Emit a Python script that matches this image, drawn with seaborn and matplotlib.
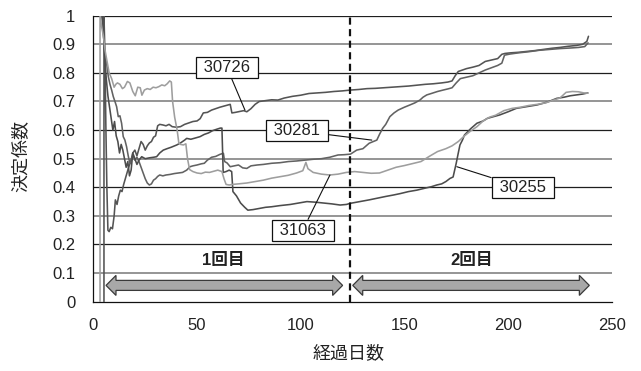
import matplotlib
matplotlib.use("Agg")
import matplotlib.pyplot as plt
import pandas as pd
import seaborn as sns
from matplotlib.patches import Polygon

# ---- data: coefficient of determination vs. elapsed days ----
d_30726 = [5.1, 5.1, 5.6, 6.0, 6.5, 7.0, 7.6, 8.4, 9.2, 10.0,
           10.6, 11.4, 12.2, 13.0, 13.8, 14.6, 15.4, 16.2, 17.0, 18.0,
           19.0, 20.0, 21.0, 22.0, 23.0, 24.0, 25.0, 26.0, 27.0, 28.0,
           29.0, 30.0, 31.0, 32.0, 33.5, 35.0, 36.5, 38.0, 40.0, 42.0,
           44.0, 46.0, 48.0, 50.0, 51.5, 53.0, 55.0, 57.0, 59.0, 61.0,
           63.0, 65.0, 66.0, 66.8, 68.5, 70.5, 72.5, 74.0, 76.0, 78.0,
           80.0, 83.0, 86.0, 89.0, 92.0, 96.0, 100.0, 104.0, 108.0, 112.0,
           116.0, 120.0, 124.0, 128.0, 132.0, 136.0, 140.0, 144.0, 148.0, 152.0,
           156.0, 160.0, 164.0, 168.0, 171.0, 173.0, 174.5, 176.0, 178.0, 180.0,
           183.0, 186.0, 189.0, 192.0, 195.0, 197.0, 198.5, 201.0, 205.0, 209.0,
           213.0, 217.0, 221.0, 225.0, 229.0, 233.0, 236.0, 238.0, 238.8]
r_30726 = [0.0, 1.0, 0.86, 0.62, 0.40, 0.25, 0.245, 0.26, 0.255, 0.30,
           0.356, 0.34, 0.37, 0.39, 0.385, 0.41, 0.43, 0.45, 0.47, 0.49,
           0.52, 0.53, 0.51, 0.535, 0.56, 0.55, 0.53, 0.545, 0.555, 0.56,
           0.575, 0.58, 0.615, 0.62, 0.618, 0.615, 0.62, 0.612, 0.61, 0.612,
           0.62, 0.625, 0.63, 0.632, 0.64, 0.66, 0.662, 0.67, 0.675, 0.68,
           0.684, 0.688, 0.69, 0.66, 0.662, 0.665, 0.668, 0.664, 0.675, 0.69,
           0.70, 0.703, 0.706, 0.705, 0.712, 0.718, 0.722, 0.728, 0.73, 0.732,
           0.735, 0.737, 0.74, 0.742, 0.745, 0.746, 0.748, 0.75, 0.752, 0.754,
           0.757, 0.76, 0.762, 0.765, 0.768, 0.772, 0.79, 0.805, 0.81, 0.815,
           0.82, 0.826, 0.84, 0.845, 0.85, 0.865, 0.868, 0.87, 0.872, 0.875,
           0.878, 0.882, 0.886, 0.889, 0.893, 0.896, 0.90, 0.91, 0.928]

d_30281 = [4.0, 4.6, 5.2, 5.6, 6.4, 7.2, 8.0, 8.8, 9.6, 10.4,
           11.2, 12.0, 12.8, 13.6, 14.4, 15.2, 16.0, 16.8, 17.6, 18.4,
           19.2, 20.0, 21.0, 22.0, 23.0, 24.0, 25.0, 26.0, 27.0, 28.0,
           29.0, 30.0, 31.0, 32.0, 33.5, 35.0, 37.0, 39.0, 41.0, 43.0,
           45.0, 46.6, 48.0, 50.0, 52.0, 53.5, 55.0, 57.0, 59.0, 61.0,
           62.7, 63.3, 64.5, 66.0, 68.0, 70.0, 72.0, 74.0, 76.0, 79.0,
           82.0, 86.0, 90.0, 94.0, 98.0, 102.0, 106.0, 110.0, 114.0, 118.0,
           121.0, 124.0, 127.0, 130.0, 133.0, 135.0, 136.7, 138.0, 139.5, 141.0,
           143.0, 145.0, 147.0, 150.0, 152.7, 155.0, 157.5, 159.0, 160.8, 163.0,
           166.0, 168.7, 171.0, 173.0, 175.0, 177.0, 180.0, 183.0, 186.0, 189.0,
           192.0, 195.0, 197.0, 198.3, 201.0, 205.0, 210.0, 215.0, 220.0, 225.0,
           230.0, 234.0, 237.0, 238.6]
r_30281 = [1.0, 0.96, 0.90, 0.857, 0.833, 0.787, 0.76, 0.74, 0.717, 0.70,
           0.682, 0.647, 0.65, 0.624, 0.577, 0.565, 0.542, 0.51, 0.484, 0.50,
           0.51, 0.495, 0.505, 0.49, 0.47, 0.45, 0.43, 0.415, 0.408, 0.412,
           0.425, 0.43, 0.438, 0.443, 0.44, 0.443, 0.445, 0.448, 0.45, 0.452,
           0.46, 0.472, 0.475, 0.478, 0.482, 0.484, 0.495, 0.505, 0.508, 0.515,
           0.519, 0.49, 0.485, 0.472, 0.475, 0.478, 0.468, 0.466, 0.475, 0.478,
           0.48, 0.484, 0.486, 0.49, 0.492, 0.495, 0.498, 0.50, 0.505, 0.513,
           0.514, 0.516, 0.53, 0.535, 0.554, 0.56, 0.565, 0.585, 0.606, 0.62,
           0.647, 0.66, 0.67, 0.68, 0.688, 0.695, 0.705, 0.715, 0.723, 0.728,
           0.735, 0.74, 0.744, 0.748, 0.765, 0.78, 0.785, 0.79, 0.80, 0.81,
           0.818, 0.826, 0.834, 0.862, 0.866, 0.87, 0.874, 0.879, 0.882, 0.885,
           0.887, 0.889, 0.892, 0.905]

d_30255 = [4.4, 5.0, 5.6, 6.2, 7.0, 7.8, 8.6, 9.4, 10.2, 11.0,
           11.8, 12.6, 13.4, 14.2, 15.0, 15.8, 16.6, 17.4, 18.2, 19.0,
           20.0, 21.0, 22.0, 23.3, 25.0, 27.0, 29.0, 30.5, 32.0, 33.7,
           35.5, 37.5, 40.2, 42.0, 44.0, 45.0, 47.0, 49.0, 51.4, 53.5,
           55.5, 57.5, 59.5, 61.2, 62.0, 62.6, 64.0, 65.5, 66.7, 67.3,
           69.0, 71.0, 73.0, 74.5, 77.0, 80.0, 83.0, 86.0, 90.0, 95.0,
           99.0, 103.0, 107.0, 111.0, 115.0, 119.0, 122.0, 124.0, 127.0, 130.0,
           133.0, 137.0, 141.0, 144.7, 148.0, 152.0, 156.0, 160.0, 163.0, 165.6,
           168.0, 170.0, 172.0, 173.5, 175.0, 176.0, 176.8, 178.0, 179.0, 182.0,
           185.0, 188.0, 190.0, 193.0, 196.0, 200.0, 204.0, 209.0, 214.0, 219.0,
           223.5, 227.0, 230.0, 233.0, 236.0, 238.5]
r_30255 = [1.0, 0.92, 0.84, 0.78, 0.72, 0.68, 0.64, 0.60, 0.63, 0.58,
           0.56, 0.52, 0.55, 0.53, 0.50, 0.47, 0.49, 0.44, 0.46, 0.52,
           0.50, 0.48, 0.495, 0.507, 0.50, 0.503, 0.505, 0.507, 0.52, 0.53,
           0.535, 0.54, 0.548, 0.555, 0.565, 0.571, 0.568, 0.572, 0.577, 0.585,
           0.59, 0.598, 0.603, 0.607, 0.607, 0.452, 0.455, 0.46, 0.455, 0.385,
           0.37, 0.345, 0.33, 0.32, 0.322, 0.326, 0.33, 0.332, 0.336, 0.34,
           0.345, 0.35, 0.348, 0.345, 0.342, 0.338, 0.34, 0.344, 0.348, 0.352,
           0.356, 0.362, 0.368, 0.373, 0.378, 0.385, 0.39, 0.397, 0.402, 0.408,
           0.412, 0.42, 0.431, 0.436, 0.484, 0.52, 0.548, 0.565, 0.583, 0.605,
           0.624, 0.632, 0.641, 0.647, 0.653, 0.664, 0.676, 0.682, 0.688, 0.698,
           0.711, 0.715, 0.72, 0.723, 0.726, 0.73]

d_31063 = [3.2, 3.2, 4.0, 4.8, 5.6, 6.6, 7.6, 8.8, 10.0, 10.8,
           11.6, 12.8, 14.0, 15.0, 16.4, 17.6, 19.0, 20.2, 21.4, 22.6,
           23.4, 24.6, 26.0, 27.4, 28.8, 30.2, 31.6, 33.0, 34.4, 35.6,
           36.8, 37.6, 38.2, 39.2, 40.4, 41.2, 42.0, 43.4, 44.6, 45.4,
           46.4, 48.0, 50.0, 52.0, 54.0, 56.0, 58.0, 60.0, 62.0, 63.0,
           64.0, 65.5, 67.0, 70.0, 74.0, 78.0, 82.0, 86.0, 90.0, 94.0,
           98.0, 101.0, 102.5, 103.5, 106.0, 110.0, 114.0, 118.0, 122.0, 126.0,
           130.0, 134.0, 138.0, 142.0, 146.0, 150.0, 154.0, 158.0, 162.0, 166.0,
           170.0, 173.0, 176.0, 179.0, 182.0, 185.0, 188.0, 191.0, 194.0, 198.0,
           202.0, 206.0, 210.0, 214.0, 218.0, 222.0, 225.0, 228.0, 231.0, 234.0,
           236.5, 238.5]
r_31063 = [0.0, 1.0, 0.96, 0.93, 0.88, 0.84, 0.80, 0.78, 0.75, 0.76,
           0.765, 0.76, 0.745, 0.75, 0.77, 0.765, 0.735, 0.72, 0.75, 0.748,
           0.722, 0.74, 0.745, 0.742, 0.75, 0.748, 0.752, 0.758, 0.755, 0.762,
           0.772, 0.768, 0.70, 0.645, 0.60, 0.555, 0.55, 0.548, 0.552, 0.50,
           0.462, 0.455, 0.450, 0.448, 0.453, 0.452, 0.456, 0.46, 0.455, 0.43,
           0.41, 0.408, 0.41, 0.412, 0.415, 0.42, 0.425, 0.432, 0.437, 0.442,
           0.45, 0.458, 0.487, 0.465, 0.452, 0.446, 0.443, 0.446, 0.452, 0.455,
           0.452, 0.449, 0.45, 0.46, 0.47, 0.476, 0.483, 0.49, 0.508, 0.525,
           0.535, 0.545, 0.56, 0.58, 0.597, 0.612, 0.632, 0.645, 0.652, 0.668,
           0.676, 0.68, 0.686, 0.69, 0.695, 0.705, 0.712, 0.732, 0.735, 0.734,
           0.73, 0.729]

series_names = ["30726", "30281", "30255", "31063"]
series_days = [d_30726, d_30281, d_30255, d_31063]
series_r2 = [r_30726, r_30281, r_30255, r_31063]
series_colors = ["#545454", "#626262", "#4c4c4c", "#9e9e9e"]

# callout label for each series: point on the line and box centre
label_point_day = [73.1, 134.3, 175.3, 114.1]
label_point_r2 = [0.670, 0.565, 0.472, 0.443]
label_box_day = [64.4, 98.1, 207.0, 100.9]
label_box_r2 = [0.819, 0.598, 0.399, 0.249]

# measurement periods
period_names = ["1回目", "2回目"]
period_start = [6.1, 125.1]
period_end = [120.2, 239.2]
boundary_day = 124

x_ticks = [0, 50, 100, 150, 200, 250]
y_ticks = [0, 0.1, 0.2, 0.3, 0.4, 0.5, 0.6, 0.7, 0.8, 0.9, 1.0]
y_tick_labels = ["0", "0.1", "0.2", "0.3", "0.4", "0.5", "0.6", "0.7", "0.8", "0.9", "1"]

# ---- build long table ----
frames = []
for name, d, r in zip(series_names, series_days, series_r2):
    assert len(d) == len(r), name
    frames.append(pd.DataFrame({"day": d, "r2": r, "series": name}))
df = pd.concat(frames, ignore_index=True)

sns.set_theme(style="white")
plt.rcParams["font.family"] = ["Liberation Sans", "Noto Sans CJK JP"]

fig = plt.figure(figsize=(6.41, 3.71), dpi=100)
ax = fig.add_axes([0.1457, 0.1868, 0.8086, 0.7709])

# horizontal grid: alternating dark and grey rules
for i, yv in enumerate(y_ticks[1:], start=1):
    if i % 2 == 0:
        ax.axhline(yv, color="#1e1e1e", lw=0.9, zorder=1)
    else:
        ax.axhline(yv, color="#8c8c8c", lw=1.3, zorder=1)

sns.lineplot(data=df, x="day", y="r2", hue="series", hue_order=series_names,
             palette=dict(zip(series_names, series_colors)),
             estimator=None, sort=False, legend=False, linewidth=1.15,
             ax=ax, zorder=3)

# boundary between the two periods
ax.axvline(boundary_day, color="#111111", lw=1.6, dashes=(3.2, 2.0), zorder=4)

# double-headed period arrows
arrow_y = 0.057
half_shaft = 0.0175
half_head = 0.035
head_len = 4.8
for name, x0, x1 in zip(period_names, period_start, period_end):
    pts = [(x0, arrow_y), (x0 + head_len, arrow_y + half_head),
           (x0 + head_len, arrow_y + half_shaft), (x1 - head_len, arrow_y + half_shaft),
           (x1 - head_len, arrow_y + half_head), (x1, arrow_y),
           (x1 - head_len, arrow_y - half_head), (x1 - head_len, arrow_y - half_shaft),
           (x0 + head_len, arrow_y - half_shaft), (x0 + head_len, arrow_y - half_head)]
    ax.add_patch(Polygon(pts, closed=True, facecolor="#a8a8a8",
                         edgecolor="#3a3a3a", lw=0.9, zorder=5))

ax.text(62.7, 0.144, period_names[0], ha="center", va="center",
        fontsize=12, fontweight="bold", color="#222222", zorder=6)
ax.text(182.2, 0.144, period_names[1], ha="center", va="center",
        fontsize=12, fontweight="bold", color="#222222", zorder=6)

# series callouts
for name, px, py, bx, by in zip(series_names, label_point_day, label_point_r2,
                                label_box_day, label_box_r2):
    ax.annotate(" " + name + " ", xy=(px, py), xytext=(bx, by),
                textcoords="data", ha="center", va="center",
                fontsize=12, color="#222222", zorder=7,
                bbox=dict(boxstyle="square,pad=0.19", fc="white", ec="#111111", lw=0.9),
                arrowprops=dict(arrowstyle="-", color="#111111", lw=0.8,
                                shrinkA=0, shrinkB=0))

ax.set_xlim(0, 250)
ax.set_ylim(0, 1)
ax.set_xticks(x_ticks)
ax.set_yticks(y_ticks)
ax.set_yticklabels(y_tick_labels)
ax.tick_params(axis="both", which="major", direction="out", length=3.5,
               width=0.8, color="#111111", labelsize=12, labelcolor="#222222")
ax.tick_params(axis="y", pad=9.5)
ax.tick_params(axis="x", pad=8.5)

for side in ["top", "right"]:
    ax.spines[side].set_visible(False)
for side in ["left", "bottom"]:
    ax.spines[side].set_color("#111111")
    ax.spines[side].set_linewidth(0.9)

ax.set_xlabel("経過日数", fontsize=13, color="#222222")
ax.set_ylabel("決定係数", fontsize=13, color="#222222")
ax.xaxis.label.set_va("center")
ax.yaxis.label.set_va("center")
ax.xaxis.set_label_coords(0.493, -0.182)
ax.yaxis.set_label_coords(-0.138, 0.509)

fig.savefig("out.png", dpi=100, facecolor="white")
